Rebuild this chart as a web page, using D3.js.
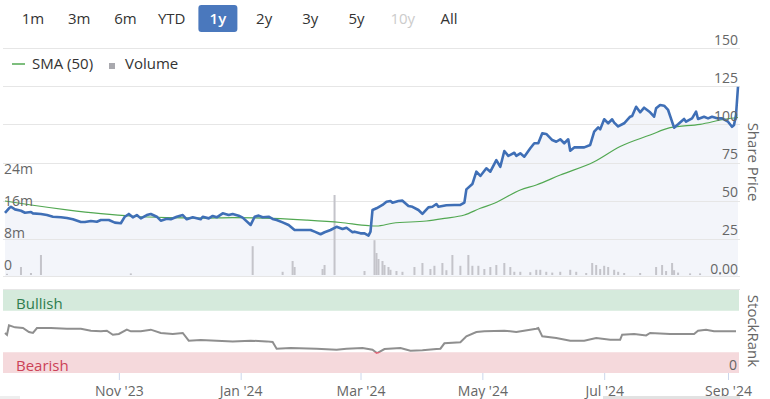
<!DOCTYPE html>
<html>
<head>
<meta charset="utf-8">
<script src="https://cdn.jsdelivr.net/npm/d3@7"></script>
<style>
    body { margin: 0; background: #fff; }
    svg { display: block; font-family: "Open Sans", sans-serif; }
</style>
</head>
<body>
<div id="chart"></div>
<script>
// range selector
const rangeButtons = ["1m", "3m", "6m", "YTD", "1y", "2y", "3y", "5y", "10y", "All"];
const activeButton = "1y";
const disabledButton = "10y";

// every series is [days after 5 Sep 2023, value]
const price = [
    [0,42],[2,45],[3,46],[5,44.3],[8,43.4],[10,42.1],[13,42.6],[14,41.7],[18,41.3],[21,40.6],
    [24,39.5],[28,39.1],[31,38.6],[34,37.8],[38,36],[40,36],[43,36.7],[46,36.2],[48,37.3],[52,37.3],
    [55,35.6],[58,35.2],[60,39.5],[62,41.3],[64,39.1],[66,40.6],[68,38.4],[71,40.6],[73,41.3],[76,39.5],
    [78,36.9],[81,38.2],[83,37.8],[86,39.5],[89,40.6],[91,37.8],[94,39.1],[98,37.8],[99,39.5],[102,38.4],
    [104,40],[106,39.1],[109,41.7],[112,40.6],[114,41.3],[117,40.2],[119,38.9],[123,34.1],[125,39.5],[127,40.2],
    [129,39.1],[132,39.5],[134,38],[136,37.3],[139,35.8],[142,34.1],[145,30.8],[149,30.8],[153,30.8],[155,29.7],
    [158,28],[160,29.3],[163,30.8],[166,32.9],[169,31.4],[171,32.3],[174,29.3],[175,29.7],[178,28.6],[180,28.6],
    [182,27.1],[183,29.7],[184,43.9],[186,45],[189,47.2],[191,49.3],[193,49.8],[194,48.7],[197,49.8],[199,50],
    [202,46.5],[204,46],[207,43.9],[209,41.3],[212,45.6],[214,46],[216,47.8],[217,46],[221,47],[225,47.2],
    [228,47.2],[230,48.7],[231,57.4],[234,60.9],[236,69],[238,66.2],[241,71.2],[243,69],[246,76.6],[248,72.2],
    [250,82.5],[252,79.3],[255,81.4],[256,79.3],[258,81],[260,78.8],[263,84.3],[265,87.6],[267,87.6],[269,94.1],
    [271,93.7],[274,89.7],[276,88.6],[278,90.2],[280,87.6],[282,90.2],[283,82.7],[285,84.9],[290,84.9],[293,86.5],
    [295,95.2],[297,98],[298,96.7],[300,103.3],[302,100.7],[304,103.3],[305,101.1],[307,98.6],[310,100.7],[313,105],
    [314,105.5],[316,111.5],[318,107.9],[320,110.9],[323,107.9],[325,105],[326,110.5],[328,112.7],[330,112.2],[332,109.4],
    [335,97.8],[337,100],[340,103.5],[341,101.7],[344,103.9],[346,108.3],[347,103.5],[350,105],[352,103.9],[354,105],
    [357,103.9],[359,103.9],[362,101.7],[364,98.4],[365,99.6],[366,106.1],[367,124.6]
];

const sma50 = [
    [0,49.8],[14,47],[31,44],[48,41.5],[64,39.8],[81,38.9],[98,38.6],[114,38.9],[134,38.4],[151,37.3],
    [168,35.7],[182,33.6],[186,33.4],[194,35.2],[211,36.7],[220,38.4],[230,40.6],[238,45],[245,48.3],[258,57],
    [266,60.3],[278,66.8],[295,75.5],[308,85.5],[323,93],[333,97.8],[348,100],[361,103.5],[367,104.5]
];

// millions of shares
const volume = [
    [1,0.3],[8,2],[13,0.5],[18,5],[63,0.4],[124,7.2],[139,0.8],[144,3.5],[145,2],[159,1.5],
    [160,2.5],[165,20],[180,1],[185,8.7],[186,5.5],[187,4],[189,3.5],[190,2.5],[192,2],[193,1.3],
    [196,1],[199,0.8],[205,2],[209,3],[213,1.5],[215,2.3],[219,3],[221,1.2],[224,5],[228,2.3],
    [232,5],[234,2.3],[237,2.3],[240,1.5],[243,2],[246,2.5],[250,3],[253,2],[255,0.8],[258,0.8],
    [263,0.7],[266,1.3],[268,1.3],[271,0.8],[274,0.6],[278,0.8],[283,1.3],[286,0.8],[291,0.5],[294,3],
    [296,2.5],[298,1.5],[300,2.3],[302,2],[305,1.3],[307,0.8],[310,0.5],[318,0.5],[326,2],[329,2.5],
    [331,1],[334,3],[335,1.2],[337,0.6],[343,0.4],[348,0.4],[358,0.5],[365,0.5]
];

const stockRank = [
    [0,48.2],[1,46],[2,57.4],[5,55],[9,54.2],[12,49.4],[14,48.2],[16,54.2],[23,54.2],[31,53.4],
    [38,53.4],[43,51],[48,50.2],[51,51],[54,46],[57,47],[61,52.2],[63,50.2],[68,50.2],[73,52.2],
    [78,48.2],[84,47],[89,48.2],[92,38.9],[98,39.8],[106,38.9],[114,38.1],[123,38.9],[131,38.1],[134,37.3],
    [136,29.3],[143,30.1],[156,29.3],[166,28.1],[171,29.3],[179,30.1],[184,28.1],[186,24.4],[187,24.8],[190,28.9],
    [198,30.1],[203,26.9],[209,27.3],[216,28.9],[218,29.3],[220,35.8],[228,37.1],[231,44.2],[236,49.4],[240,50.2],
    [250,51],[256,49.4],[266,53.4],[267,54.2],[269,44.2],[276,42.2],[283,38.9],[290,38.9],[296,42.2],[303,40.1],
    [308,40.1],[309,46.1],[315,46.9],[321,45.3],[323,48.2],[333,47],[345,47],[347,51],[351,52.2],[355,50.2],
    [366,50.2]
];

const priceTicks = [0, 25, 50, 75, 100, 125, 150];
const volumeTicks = [0, 8, 16, 24];
const dateTicks = ["2023-11-01", "2024-01-01", "2024-03-01", "2024-05-01", "2024-07-01", "2024-09-01"];
const rankBands = [
    {name: "Bullish", from: 75, to: 100, fill: "#d5eadc", color: "#2f7d4e"},
    {name: "Bearish", from: 0, to: 25, fill: "#f5d9dc", color: "#cc4257"}
];

const width = 770, height = 399;
const start = new Date(2023, 8, 5);
const day = d => d3.timeDay.offset(start, d);

const svg = d3.select("#chart").append("svg")
    .attr("width", width)
    .attr("height", height);

const x = d3.scaleTime()
    .domain([start, day(367)])
    .range([5, 738]);
const yPrice = d3.scaleLinear().domain([0, 150]).range([277, 48]);
const yVol = d3.scaleLinear().domain([0, 24]).range([275, 179]);
const yRank = d3.scaleLinear().domain([0, 100]).range([373, 290]);

// buttons
const bx = d3.scalePoint().domain(rangeButtons).range([33, 449]);
svg.append("rect")
    .attr("x", bx(activeButton) - 19.5)
    .attr("y", 5)
    .attr("width", 39)
    .attr("height", 27)
    .attr("rx", 3)
    .style("fill", "#4a78bd");
svg.selectAll(".btn")
    .data(rangeButtons)
    .enter()
    .append("text")
    .attr("class", "btn")
    .attr("x", d => bx(d))
    .attr("y", 24)
    .attr("text-anchor", "middle")
    .style("font-size", "15px")
    .style("fill", d => d === activeButton ? "#fff" : d === disabledButton ? "#cccccc" : "#333")
    .style("font-weight", d => d === activeButton ? "600" : "normal")
    .text(d => d);

// legend
svg.append("line")
    .attr("x1", 12).attr("x2", 25).attr("y1", 64).attr("y2", 64)
    .style("stroke", "#52a852").style("stroke-width", 1.5);
svg.append("text")
    .attr("x", 32).attr("y", 69)
    .style("font-size", "15px").style("fill", "#333")
    .text("SMA (50)");
svg.append("rect")
    .attr("x", 109).attr("y", 63).attr("width", 6).attr("height", 6)
    .style("fill", "#a9a9ae");
svg.append("text")
    .attr("x", 125).attr("y", 69)
    .style("font-size", "15px").style("fill", "#333")
    .text("Volume");

// price panel
const area = d3.area()
    .x(d => x(day(d[0])))
    .y0(yPrice(0))
    .y1(d => yPrice(d[1]));
svg.append("path")
    .datum(price)
    .attr("d", area)
    .style("fill", "#f3f5fa");

svg.selectAll(".grid")
    .data(priceTicks.filter(d => d > 0))
    .enter()
    .append("line")
    .attr("class", "grid")
    .attr("x1", 3).attr("x2", 740)
    .attr("y1", d => Math.round(yPrice(d)) + 0.5)
    .attr("y2", d => Math.round(yPrice(d)) + 0.5)
    .style("stroke", "#e6e6e6");
svg.append("line")
    .attr("x1", 3).attr("x2", 740).attr("y1", 276.5).attr("y2", 276.5)
    .style("stroke", "#e6e6e6");

svg.selectAll(".vol")
    .data(volume)
    .enter()
    .append("rect")
    .attr("class", "vol")
    .attr("x", d => x(day(d[0])) - 1)
    .attr("y", d => yVol(d[1]))
    .attr("width", 2)
    .attr("height", d => yVol(0) - yVol(d[1]))
    .style("fill", "#c4c4ca");

const line = d3.line()
    .x(d => x(day(d[0])))
    .y(d => yPrice(d[1]));
svg.append("path")
    .datum(sma50)
    .attr("d", line.curve(d3.curveMonotoneX))
    .style("fill", "none")
    .style("stroke", "#52a852")
    .style("stroke-width", 1.2);
svg.append("path")
    .datum(price)
    .attr("d", line.curve(d3.curveLinear))
    .style("fill", "none")
    .style("stroke", "#3f6fb6")
    .style("stroke-width", 2.6)
    .style("stroke-linejoin", "round");

svg.selectAll(".plabel")
    .data(priceTicks)
    .enter()
    .append("text")
    .attr("class", "plabel")
    .attr("x", 738)
    .attr("y", d => yPrice(d) - 3.5)
    .attr("text-anchor", "end")
    .style("font-size", "14px")
    .style("fill", "#666")
    .text(d => d === 0 ? "0.00" : d);

svg.selectAll(".vlabel")
    .data(volumeTicks)
    .enter()
    .append("text")
    .attr("class", "vlabel")
    .attr("x", 4)
    .attr("y", d => yVol(d) - 5)
    .style("font-size", "14px")
    .style("fill", "#666")
    .text(d => d === 0 ? "0" : d + "m");

svg.append("text")
    .attr("transform", "translate(748,162) rotate(90)")
    .attr("text-anchor", "middle")
    .style("font-size", "15px")
    .style("fill", "#666")
    .text("Share Price");

// stockrank panel
svg.append("line")
    .attr("x1", 3).attr("x2", 740).attr("y1", 289.5).attr("y2", 289.5)
    .style("stroke", "#e6e6e6");
svg.selectAll(".band")
    .data(rankBands)
    .enter()
    .append("rect")
    .attr("class", "band")
    .attr("x", 3)
    .attr("y", d => yRank(d.to))
    .attr("width", 736)
    .attr("height", d => yRank(d.from) - yRank(d.to))
    .style("fill", d => d.fill);
svg.selectAll(".bandLabel")
    .data(rankBands)
    .enter()
    .append("text")
    .attr("class", "bandLabel")
    .attr("x", 16)
    .attr("y", d => yRank(d.from) - 2)
    .style("font-size", "15px")
    .style("fill", d => d.color)
    .text(d => d.name);

svg.append("clipPath").attr("id", "aboveBear")
    .append("rect").attr("x", 0).attr("y", 0).attr("width", width).attr("height", yRank(25));
svg.append("clipPath").attr("id", "inBear")
    .append("rect").attr("x", 0).attr("y", yRank(25)).attr("width", width).attr("height", height);

const rankLine = d3.line()
    .x(d => x(day(d[0])))
    .y(d => yRank(d[1]));
svg.append("path")
    .datum(stockRank)
    .attr("d", rankLine)
    .attr("clip-path", "url(#aboveBear)")
    .style("fill", "none")
    .style("stroke", "#8f8f8f")
    .style("stroke-width", 2);
svg.append("path")
    .datum(stockRank)
    .attr("d", rankLine)
    .attr("clip-path", "url(#inBear)")
    .style("fill", "none")
    .style("stroke", "#d9475c")
    .style("stroke-width", 2);

svg.append("text")
    .attr("x", 737).attr("y", 370)
    .attr("text-anchor", "end")
    .style("font-size", "14px")
    .style("fill", "#666")
    .text("0");
svg.append("text")
    .attr("transform", "translate(748,331) rotate(90)")
    .attr("text-anchor", "middle")
    .style("font-size", "15px")
    .style("fill", "#666")
    .text("StockRank");

// date axis
const parseDate = d3.timeParse("%Y-%m-%d");
const xAxis = d3.axisBottom(x)
    .tickValues(dateTicks.map(parseDate))
    .tickFormat(d3.timeFormat("%b '%y"))
    .tickSize(7)
    .tickPadding(6);
const gx = svg.append("g")
    .attr("transform", "translate(0,373)")
    .call(xAxis);
gx.select(".domain").remove();
gx.selectAll(".tick line").style("stroke", "#ccd6eb");
gx.selectAll(".tick text")
    .style("font-family", "'Open Sans', sans-serif")
    .style("font-size", "14px")
    .style("fill", "#666");

// bits of the scrollbar under the chart
svg.append("rect").attr("x", 0).attr("y", 396).attr("width", 20).attr("height", 3).style("fill", "#eeeeee");
svg.append("rect").attr("x", 603).attr("y", 396).attr("width", 137).attr("height", 3).style("fill", "#e2e2e2");
</script>
</body>
</html>
